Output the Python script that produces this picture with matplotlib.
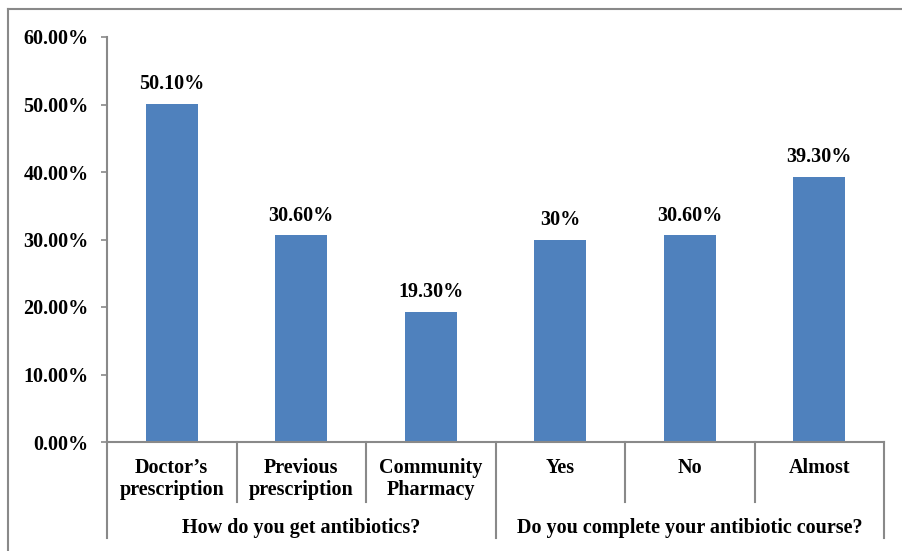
import matplotlib

matplotlib.use("Agg")
import matplotlib.pyplot as plt
import matplotlib.transforms as mtransforms
from matplotlib.lines import Line2D
from matplotlib.ticker import FuncFormatter

categories = ["Doctor\u2019s\nprescription", "Previous\nprescription", "Community\nPharmacy",
              "Yes", "No", "Almost"]
values = [0.501, 0.306, 0.193, 0.30, 0.306, 0.393]
value_labels = ["50.10%", "30.60%", "19.30%", "30%", "30.60%", "39.30%"]
groups = ["How do you get antibiotics?", "Do you complete your antibiotic course?"]
group_sizes = [3, 3]
yticks = [0.0, 0.1, 0.2, 0.3, 0.4, 0.5, 0.6]

BAR = "#4F81BD"
GRID = "#898989"
FONT = ["Liberation Serif", "DejaVu Serif"]
FS = 14.5

plt.rcParams["font.family"] = FONT
plt.rcParams["font.weight"] = "bold"

W, H = 902, 551
fig = plt.figure(figsize=(W / 100, H / 100), dpi=100)
ax = fig.add_axes([107 / W, 1 - 442 / H, (884 - 107) / W, (442 - 37) / H])

x = list(range(len(values)))
ax.bar(x, values, width=0.4, color=BAR)
for xi, v, lab in zip(x, values, value_labels):
    ax.annotate(lab, (xi, v), xytext=(0, 7), textcoords="offset points",
                ha="center", va="bottom", fontsize=FS, fontweight="bold")

ax.set_xlim(-0.5, len(values) - 0.5)
ax.set_ylim(0, 0.6)
ax.set_yticks(yticks)
ax.yaxis.set_major_formatter(FuncFormatter(lambda v, _: f"{v * 100:.2f}%"))
ax.tick_params(axis="y", length=4.3, width=1.2, color=GRID, pad=9, labelsize=FS)
ax.set_xticks([])
for s in ("top", "right"):
    ax.spines[s].set_visible(False)
for s in ("left", "bottom"):
    ax.spines[s].set_color(GRID)
    ax.spines[s].set_linewidth(1.5)

trans = mtransforms.blended_transform_factory(ax.transData, ax.transAxes)
# dividers between categories; group edges run further down
edges = [i - 0.5 for i in range(len(values) + 1)]
group_edges = [-0.5]
for n in group_sizes:
    group_edges.append(group_edges[-1] + n)
for e in edges:
    bottom = -0.237 if e in group_edges else -0.148
    ax.plot([e, e], [0, bottom], transform=trans, color=GRID, lw=1.5, clip_on=False)

for xi, cat in zip(x, categories):
    ax.text(xi, -0.04, cat, transform=trans, ha="center", va="top",
            fontsize=FS, fontweight="bold", linespacing=1.15)

for i, g in enumerate(groups):
    mid = (group_edges[i] + group_edges[i + 1]) / 2
    ax.text(mid, -0.213, g, transform=trans, ha="center", va="center",
            fontsize=FS, fontweight="bold")

# outer chart border (cropped on the right and bottom)
fig.add_artist(Line2D([8 / W, 8 / W], [0, 1 - 9 / H], transform=fig.transFigure,
                      color=GRID, lw=1.5))
fig.add_artist(Line2D([8 / W, 1], [1 - 9 / H, 1 - 9 / H], transform=fig.transFigure,
                      color=GRID, lw=1.5))

fig.savefig("out.png", dpi=100)
